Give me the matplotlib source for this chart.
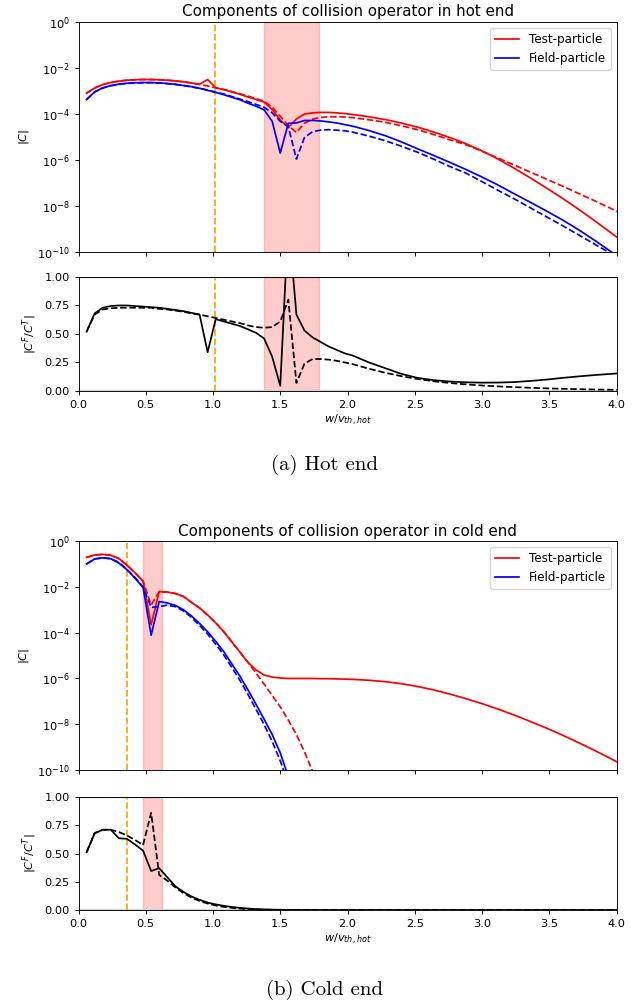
import numpy as np
import matplotlib
matplotlib.use("Agg")
import matplotlib.pyplot as plt
from matplotlib.ticker import NullLocator

nan = np.nan

# velocity grid (normalised to hot thermal speed)
w = [0.06, 0.12, 0.18, 0.24, 0.30, 0.36, 0.42, 0.48, 0.54, 0.60,
     0.66, 0.72, 0.78, 0.84, 0.90, 0.96, 1.02, 1.08, 1.14, 1.20,
     1.26, 1.32, 1.38, 1.44, 1.50, 1.56, 1.62, 1.68, 1.74, 1.80,
     1.86, 1.92, 1.98, 2.04, 2.16, 2.28, 2.40, 2.52, 2.64, 2.76,
     2.88, 3.00, 3.12, 3.24, 3.36, 3.48, 3.60, 3.72, 3.84, 3.96,
     4.08]

# hot end, log10 |C|
hot_test_solid = [-3.09, -2.87, -2.72, -2.63, -2.57, -2.53, -2.51, -2.50, -2.50, -2.51,
                  -2.53, -2.56, -2.60, -2.65, -2.71, -2.50, -2.86, -2.94, -3.04, -3.14,
                  -3.26, -3.37, -3.48, -3.80, -4.26, -4.58, -4.22, -4.00, -3.95, -3.93,
                  -3.93, -3.95, -3.98, -4.02, -4.12, -4.24, -4.39, -4.57, -4.78, -5.02,
                  -5.29, -5.60, -5.96, -6.36, -6.78, -7.22, -7.67, -8.15, -8.65, -9.17,
                  -9.70]
hot_test_dashed = [-3.09, -2.87, -2.72, -2.63, -2.57, -2.53, -2.51, -2.50, -2.50, -2.51,
                   -2.53, -2.56, -2.60, -2.65, -2.71, -2.78, -2.86, -2.93, -3.02, -3.12,
                   -3.22, -3.33, -3.45, -3.70, -4.10, -4.50, -4.80, -4.40, -4.22, -4.15,
                   -4.12, -4.12, -4.13, -4.16, -4.25, -4.36, -4.51, -4.68, -4.89, -5.12,
                   -5.33, -5.62, -5.92, -6.22, -6.53, -6.83, -7.14, -7.46, -7.78, -8.11,
                   -8.45]
hot_field_solid = [-3.37, -3.04, -2.86, -2.76, -2.70, -2.66, -2.64, -2.63, -2.63, -2.65,
                   -2.67, -2.71, -2.76, -2.81, -2.88, -2.97, -3.06, -3.16, -3.27, -3.38,
                   -3.53, -3.66, -3.82, -4.32, -5.70, -4.40, -4.39, -4.28, -4.28, -4.30,
                   -4.34, -4.39, -4.46, -4.53, -4.72, -4.94, -5.21, -5.51, -5.80, -6.10,
                   -6.41, -6.74, -7.09, -7.47, -7.84, -8.22, -8.61, -9.04, -9.50, -9.99,
                   -10.50]
hot_field_dashed = [-3.37, -3.04, -2.87, -2.77, -2.71, -2.67, -2.65, -2.64, -2.64, -2.65,
                    -2.68, -2.71, -2.76, -2.82, -2.88, -2.96, -3.05, -3.13, -3.24, -3.35,
                    -3.46, -3.58, -3.71, -3.95, -4.32, -4.55, -5.96, -5.02, -4.77, -4.70,
                    -4.68, -4.70, -4.73, -4.79, -4.96, -5.16, -5.40, -5.66, -5.96, -6.28,
                    -6.57, -6.94, -7.32, -7.69, -8.08, -8.47, -8.86, -9.26, -9.67, -10.07,
                    -10.50]
hot_ratio_solid = [0.52, 0.68, 0.73, 0.745, 0.75, 0.75, 0.745, 0.74, 0.735, 0.73,
                   0.72, 0.71, 0.70, 0.685, 0.67, 0.34, 0.63, 0.61, 0.59, 0.57,
                   0.54, 0.51, 0.46, 0.30, 0.045, 1.5, 0.67, 0.53, 0.47, 0.43,
                   0.39, 0.36, 0.33, 0.31, 0.25, 0.20, 0.15, 0.115, 0.095, 0.083,
                   0.076, 0.073, 0.074, 0.078, 0.088, 0.10, 0.115, 0.128, 0.14, 0.15,
                   0.16]
hot_ratio_dashed = [0.52, 0.67, 0.715, 0.725, 0.73, 0.73, 0.73, 0.73, 0.73, 0.72,
                    0.715, 0.705, 0.695, 0.68, 0.67, 0.655, 0.64, 0.625, 0.61, 0.595,
                    0.575, 0.56, 0.555, 0.56, 0.61, 0.80, 0.07, 0.24, 0.28, 0.28,
                    0.275, 0.265, 0.25, 0.235, 0.195, 0.16, 0.13, 0.105, 0.085, 0.07,
                    0.058, 0.048, 0.04, 0.034, 0.028, 0.023, 0.019, 0.016, 0.013, 0.011,
                    0.009]

# cold end, log10 |C|
cold_test_solid = [-0.71, -0.61, -0.58, -0.62, -0.76, -1.05, -1.38, -1.75, -3.65, -2.21,
                   -2.23, -2.29, -2.42, -2.68, -2.92, -3.23, -3.57, -3.96, -4.40, -4.85,
                   -5.30, -5.63, -5.85, -5.94, -5.98, -6.00, -6.00, -6.00, -6.00, -6.01,
                   -6.01, -6.02, -6.03, -6.04, -6.08, -6.14, -6.23, -6.35, -6.50, -6.68,
                   -6.88, -7.10, -7.34, -7.60, -7.88, -8.17, -8.48, -8.81, -9.15, -9.51,
                   -9.88]
cold_test_dashed = [-0.71, -0.61, -0.58, -0.62, -0.76, -1.05, -1.38, -1.75, -2.79, -2.21,
                    -2.23, -2.29, -2.42, -2.68, -2.92, -3.23, -3.57, -3.96, -4.40, -4.85,
                    -5.30, -5.77, -6.25, -6.74, -7.24, -7.82, -8.45, -9.20, -10.05, -10.90] + [nan] * 21
cold_field_solid = [-1.00, -0.78, -0.73, -0.77, -0.96, -1.25, -1.62, -2.03, -4.11, -2.64,
                    -2.70, -2.81, -3.00, -3.27, -3.60, -3.96, -4.38, -4.83, -5.37, -5.90,
                    -6.50, -7.13, -7.78, -8.45, -9.25, -10.30] + [nan] * 25
cold_field_dashed = [-1.00, -0.78, -0.73, -0.77, -0.93, -1.23, -1.59, -2.00, -2.90, -2.86,
                     -2.80, -2.86, -3.05, -3.33, -3.68, -4.06, -4.50, -4.97, -5.52, -6.08,
                     -6.70, -7.35, -8.02, -8.75, -9.60, -10.60] + [nan] * 25
cold_ratio_solid = [0.51, 0.68, 0.71, 0.71, 0.635, 0.63, 0.58, 0.525, 0.345, 0.37,
                    0.29, 0.21, 0.16, 0.12, 0.09, 0.066, 0.05, 0.037, 0.027, 0.019,
                    0.013, 0.008, 0.005, 0.003, 0.002, 0.001, 0.0005, 0.0002, 0.0001] + [0.0] * 22
cold_ratio_dashed = [0.51, 0.68, 0.71, 0.71, 0.69, 0.66, 0.62, 0.575, 0.86, 0.31,
                     0.26, 0.20, 0.15, 0.11, 0.08, 0.057, 0.04, 0.028, 0.019, 0.012,
                     0.008, 0.005, 0.003, 0.002, 0.001, 0.0005] + [0.0] * 25

# boundary markers
hot_vline, hot_span = 1.015, (1.38, 1.785)
cold_vline, cold_span = 0.36, (0.478, 0.617)

plt.rcParams.update({
    "font.size": 8.2,
    "axes.linewidth": 0.65,
    "xtick.major.size": 2.8,
    "ytick.major.size": 2.8,
    "xtick.major.width": 0.65,
    "ytick.major.width": 0.65,
    "legend.fontsize": 8.6,
})
lw = 1.25


def draw_pair(ax_c, ax_r, title, ts, td, fs, fd, rs, rd, vline, span):
    ax_c.axvspan(span[0], span[1], color="red", alpha=0.2)
    ax_c.axvline(vline, color="orange", ls="--", lw=lw)
    ax_c.plot(w, 10.0 ** np.array(ts), color="red", lw=lw, label="Test-particle")
    ax_c.plot(w, 10.0 ** np.array(td), color="red", ls="--", lw=lw)
    ax_c.plot(w, 10.0 ** np.array(fs), color="blue", lw=lw, label="Field-particle")
    ax_c.plot(w, 10.0 ** np.array(fd), color="blue", ls="--", lw=lw)
    ax_c.set_yscale("log")
    ax_c.set_xlim(0, 4)
    ax_c.set_ylim(1e-10, 1)
    ax_c.set_yticks([1e0, 1e-2, 1e-4, 1e-6, 1e-8, 1e-10])
    ax_c.yaxis.set_minor_locator(NullLocator())
    ax_c.set_xticks(np.arange(0, 4.01, 0.5))
    ax_c.tick_params(labelbottom=False)
    ax_c.set_ylabel("$|C|$")
    ax_c.set_title(title, fontsize=10.9, pad=4)
    ax_c.legend(loc="upper right")

    ax_r.axvspan(span[0], span[1], color="red", alpha=0.2)
    ax_r.axvline(vline, color="orange", ls="--", lw=lw)
    ax_r.plot(w, rs, color="black", lw=lw)
    ax_r.plot(w, rd, color="black", ls="--", lw=lw)
    ax_r.axhline(1.0, color="0.5", lw=1.6, zorder=1.5)
    ax_r.axhline(0.0, color="0.82", lw=1.6, zorder=1.5)
    ax_r.set_xlim(0, 4)
    ax_r.set_ylim(0, 1)
    ax_r.set_yticks([0, 0.25, 0.5, 0.75, 1.0])
    ax_r.set_xticks(np.arange(0, 4.01, 0.5))
    ax_r.set_ylabel("$|C^F/C^T|$")
    ax_r.set_xlabel("$w/v_{th,hot}$", labelpad=2)


fig = plt.figure(figsize=(6.42, 10.02), dpi=100)
left, width = 0.1223, 0.838
ax1 = fig.add_axes([left, 0.7485, width, 0.2295])
ax2 = fig.add_axes([left, 0.6098, width, 0.1138])
ax3 = fig.add_axes([left, 0.2315, width, 0.2285])
ax4 = fig.add_axes([left, 0.0918, width, 0.1128])

draw_pair(ax1, ax2, "Components of collision operator in hot end",
          hot_test_solid, hot_test_dashed, hot_field_solid, hot_field_dashed,
          hot_ratio_solid, hot_ratio_dashed, hot_vline, hot_span)
draw_pair(ax3, ax4, "Components of collision operator in cold end",
          cold_test_solid, cold_test_dashed, cold_field_solid, cold_field_dashed,
          cold_ratio_solid, cold_ratio_dashed, cold_vline, cold_span)

fig.text(0.506, 1 - 465 / 1002, "(a) Hot end", family="cmr10", fontsize=15,
         ha="center", va="center")
fig.text(0.506, 1 - 990 / 1002, "(b) Cold end", family="cmr10", fontsize=15,
         ha="center", va="center")

fig.savefig("out.png", dpi=100)
